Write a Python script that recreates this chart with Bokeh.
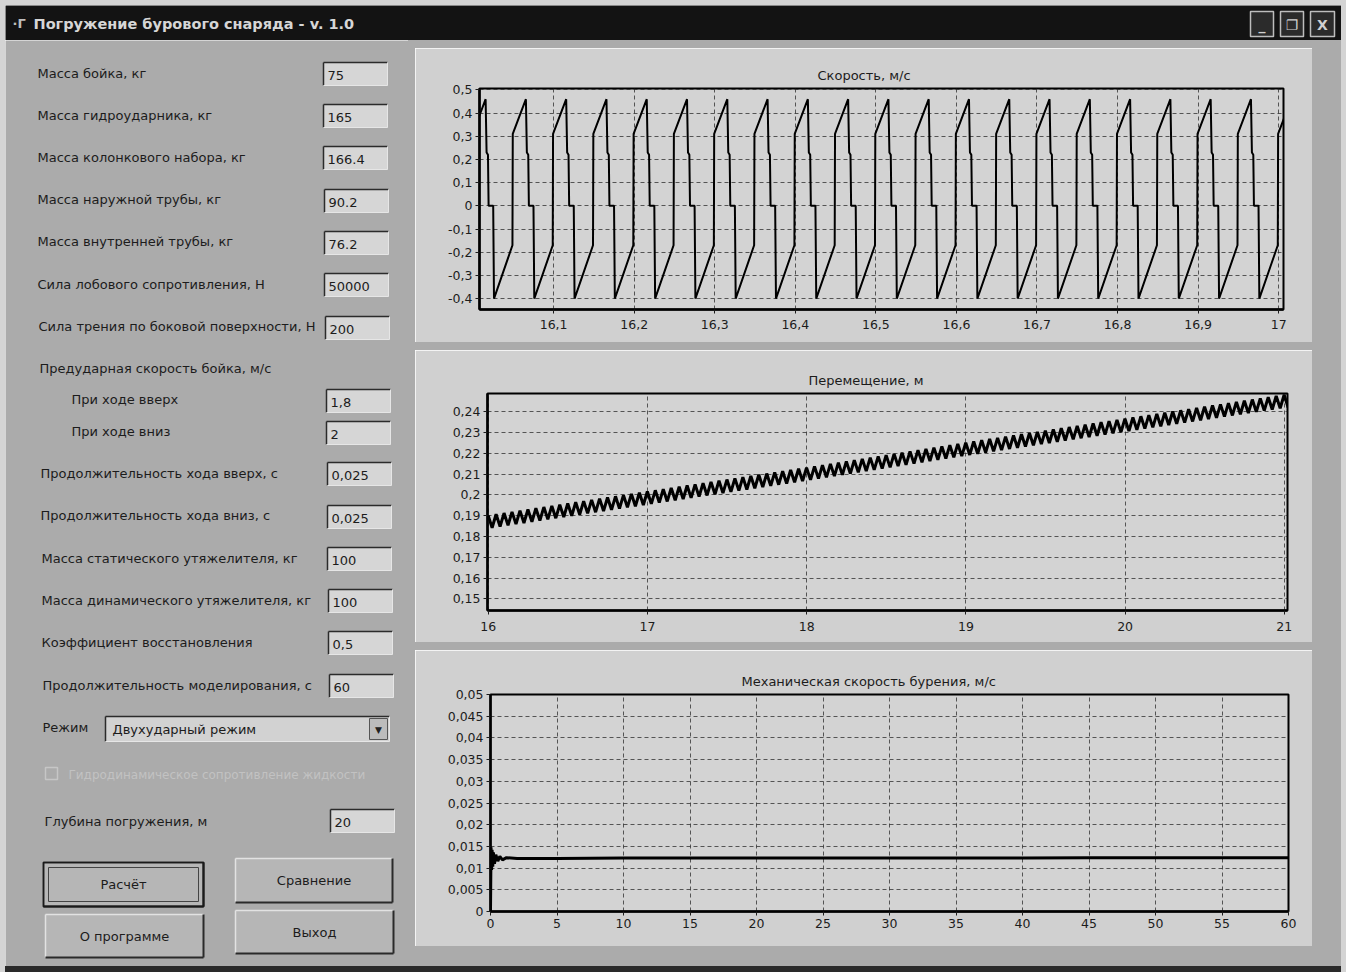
import numpy as np
from bokeh.plotting import figure
from bokeh.layouts import column, row
from bokeh.models import Range1d, FixedTicker, CustomJSTickFormatter, Spacer
from bokeh.core.properties import value
from bokeh.embed import file_html
from bokeh.resources import INLINE

# ------------------------------------------------------------------ data
# Chart 1: velocity, m/s (one hammer cycle, repeated at each trough)
vel_trough_times = [15.976, 16.026, 16.076, 16.126, 16.176, 16.226, 16.276, 16.326,
                    16.376, 16.426, 16.476, 16.526, 16.576, 16.626, 16.676, 16.726,
                    16.776, 16.826, 16.876, 16.926, 16.976]
vel_cycle_offsets = [0.0, 0.0229, 0.0233, 0.0396, 0.0408, 0.0425, 0.0433, 0.0490]
vel_cycle_values = [-0.40, -0.17, 0.31, 0.46, 0.23, 0.22, 0.0, 0.0]
vel_x_ticks = [16.1, 16.2, 16.3, 16.4, 16.5, 16.6, 16.7, 16.8, 16.9, 17.0]
vel_x_labels = ["16,1", "16,2", "16,3", "16,4", "16,5", "16,6", "16,7", "16,8", "16,9", "17"]
vel_y_ticks = [-0.4, -0.3, -0.2, -0.1, 0.0, 0.1, 0.2, 0.3, 0.4, 0.5]
vel_y_labels = ["-0,4", "-0,3", "-0,2", "-0,1", "0", "0,1", "0,2", "0,3", "0,4", "0,5"]

# Chart 2: displacement, m (mean level read at each second, swing of the saw-tooth)
disp_trend_t = [16, 17, 18, 19, 20, 21]
disp_trend_v = [0.1870, 0.1985, 0.2100, 0.2220, 0.2335, 0.2450]
disp_half_swing = 0.0031
disp_half_period = 0.025
disp_x_ticks = [16, 17, 18, 19, 20, 21]
disp_x_labels = ["16", "17", "18", "19", "20", "21"]
disp_y_ticks = [0.15, 0.16, 0.17, 0.18, 0.19, 0.20, 0.21, 0.22, 0.23, 0.24]
disp_y_labels = ["0,15", "0,16", "0,17", "0,18", "0,19", "0,2", "0,21", "0,22", "0,23", "0,24"]

# Chart 3: mechanical drilling speed, m/s
mech_t = [0.0, 0.04, 0.08, 0.12, 0.17, 0.22, 0.30, 0.40, 0.55, 0.70, 0.90, 1.2, 2.0,
          5, 10, 15, 20, 25, 30, 35, 40, 45, 50, 55, 60]
mech_v = [0.0, 0.0148, 0.0096, 0.0142, 0.0103, 0.0136, 0.0110, 0.0131, 0.0116, 0.0127,
          0.0119, 0.0124, 0.0122, 0.0122, 0.0123, 0.0123, 0.0123, 0.0123, 0.0123,
          0.0123, 0.0123, 0.0124, 0.0124, 0.0124, 0.0124]
mech_x_ticks = [0, 5, 10, 15, 20, 25, 30, 35, 40, 45, 50, 55, 60]
mech_x_labels = ["0", "5", "10", "15", "20", "25", "30", "35", "40", "45", "50", "55", "60"]
mech_y_ticks = [0.0, 0.005, 0.01, 0.015, 0.02, 0.025, 0.03, 0.035, 0.04, 0.045, 0.05]
mech_y_labels = ["0", "0,005", "0,01", "0,015", "0,02", "0,025", "0,03", "0,035", "0,04",
                 "0,045", "0,05"]

# Form content
window_title = "Погружение бурового снаряда - v. 1.0"
form_labels = ["Масса бойка, кг", "Масса гидроударника, кг", "Масса колонкового набора, кг",
               "Масса наружной трубы, кг", "Масса внутренней трубы, кг",
               "Сила лобового сопротивления, Н", "Сила трения по боковой поверхности, Н",
               "Предударная скорость бойка, м/с", "При ходе вверх", "При ходе вниз",
               "Продолжительность хода вверх, с", "Продолжительность хода вниз, с",
               "Масса статического утяжелителя, кг", "Масса динамического утяжелителя, кг",
               "Коэффициент восстановления", "Продолжительность моделирования, с",
               "Режим", "Глубина погружения, м"]
field_values = ["75", "165", "166.4", "90.2", "76.2", "50000", "200", "1,8", "2",
                "0,025", "0,025", "100", "100", "0,5", "60", "20"]
mode_text = "Двухударный режим"
checkbox_text = "Гидродинамическое сопротивление жидкости"
button_texts = ["Расчёт", "Сравнение", "О программе", "Выход"]

# ------------------------------------------------------------------ style / layout constants
FONT = "DejaVu Sans"
WIN_BG = "#ababab"
OUT_BG = "#d4d4d4"
PANEL_BG = "#d0d0d0"
PLOT_BG = "#d3d3d3"
INK = "#1c1c1c"

# form layout (window pixel coordinates)
label_x = [37, 37, 37, 37, 37, 37, 38, 39, 71, 71, 40, 40, 41, 41, 41, 42, 42, 44]
label_y = [73, 115, 157, 199, 241, 284, 326, 368, 399, 431, 473, 515, 558, 600, 642, 685, 727, 821]
field_left = [323, 323, 323, 324, 324, 324, 325, 326, 326, 327, 327, 327, 328, 328, 329, 330]
field_top = [62, 104, 146, 189, 231, 273, 316, 389, 421, 462, 505, 547, 589, 631, 674, 809]
FIELD_W, FIELD_H = 64, 23
btn_left = [43, 235, 45, 235]
btn_right = [203, 392, 203, 393]
btn_top = [862, 858, 914, 910]
btn_bottom = [906, 902, 957, 953]


def label_formatter(ticks, labels):
    return CustomJSTickFormatter(args=dict(t=ticks, l=labels), code="""
        let best = 0, bd = Infinity;
        for (let j = 0; j < t.length; j++) {
            const d = Math.abs(t[j] - tick);
            if (d < bd) { bd = d; best = j; }
        }
        return l[best];
    """)


def make_chart(title, width, height, xr, yr, borders, xt, xl, yt, yl, title_offset, x_standoff):
    left, right, top, bottom = borders
    p = figure(width=width, height=height, x_range=Range1d(*xr), y_range=Range1d(*yr),
               toolbar_location=None, output_backend="svg", title=title,
               min_border_left=left, min_border_right=right,
               min_border_top=top, min_border_bottom=bottom)
    p.title.align = "left"
    p.title.offset = title_offset
    p.title.text_font = FONT
    p.title.text_font_size = "13px"
    p.title.text_font_style = "normal"
    p.title.text_color = INK
    p.title.standoff = 12
    p.background_fill_color = PLOT_BG
    p.border_fill_color = PANEL_BG
    p.outline_line_color = "black"
    p.outline_line_width = 2
    xtick = FixedTicker(ticks=xt)
    ytick = FixedTicker(ticks=yt)
    p.xaxis[0].ticker = xtick
    p.yaxis[0].ticker = ytick
    p.xgrid[0].ticker = xtick
    p.ygrid[0].ticker = ytick
    p.xaxis[0].formatter = label_formatter(xt, xl)
    p.yaxis[0].formatter = label_formatter(yt, yl)
    p.xaxis[0].major_label_standoff = x_standoff
    p.yaxis[0].major_label_standoff = 3
    for ax in (p.xaxis[0], p.yaxis[0]):
        ax.axis_line_color = "black"
        ax.axis_line_width = 2.5
        ax.major_tick_line_color = INK
        ax.major_tick_out = 4
        ax.major_tick_in = 0
        ax.minor_tick_line_color = None
        ax.major_label_text_font = FONT
        ax.major_label_text_font_size = "12.5px"
        ax.major_label_text_color = INK
    for g in (p.xgrid[0], p.ygrid[0]):
        g.grid_line_color = "#2a2a2a"
        g.grid_line_dash = "4 3"
        g.grid_line_alpha = 0.75
        g.grid_line_width = 1
    return p


# ------------------------------------------------------------------ chart 1: velocity
vel_x, vel_y = [], []
for t0 in vel_trough_times:
    for off, v in zip(vel_cycle_offsets, vel_cycle_values):
        vel_x.append(t0 + off)
        vel_y.append(v)

c1 = make_chart("Скорость, м/с", 897, 294, (16.008, 17.006), (-0.447, 0.506),
                (64, 29, 40, 33), vel_x_ticks, vel_x_labels, vel_y_ticks, vel_y_labels,
                338, 6)
c1.line(vel_x, vel_y, line_color="black", line_width=2)

# ------------------------------------------------------------------ chart 2: displacement
n_pts = int(round((21.03 - 15.999) / disp_half_period)) + 1
disp_x = [15.999 + disp_half_period * j for j in range(n_pts)]
disp_mean = np.interp(disp_x, disp_trend_t, disp_trend_v)
disp_y = [m + (disp_half_swing if j % 2 == 0 else -disp_half_swing)
          for j, m in enumerate(disp_mean)]

c2 = make_chart("Перемещение, м", 897, 292, (15.995, 21.02), (0.1444, 0.2487),
                (72, 25, 43, 32), disp_x_ticks, disp_x_labels, disp_y_ticks, disp_y_labels,
                321, 7)
c2.line(disp_x, disp_y, line_color="black", line_width=3)

# ------------------------------------------------------------------ chart 3: drilling speed
c3 = make_chart("Механическая скорость бурения, м/с", 897, 296, (0, 60), (0, 0.05),
                (75, 24, 44, 35), mech_x_ticks, mech_x_labels, mech_y_ticks, mech_y_labels,
                251, 3)
c3.line(mech_t, mech_v, line_color="black", line_width=3)

# ------------------------------------------------------------------ title bar
tb = figure(width=1336, height=35, x_range=Range1d(5, 1341), y_range=Range1d(40, 5),
            toolbar_location=None, output_backend="svg", min_border=0,
            x_axis_location=None, y_axis_location=None)
tb.grid.visible = False
tb.outline_line_color = None
tb.background_fill_color = "#131313"
tb.border_fill_color = "#131313"
tb.text(x=[33], y=[23], text=[window_title], text_baseline="middle",
        text_font=value(FONT), text_font_size="14.5px", text_font_style="bold",
        text_color="#d6d6d6")
tb.text(x=[12], y=[23], text=["\u00b7\u0413"], text_baseline="middle",
        text_font=value(FONT), text_font_size="13px", text_font_style="bold",
        text_color="#bdbdbd")
wb_left = [1250, 1280, 1310]
wb_right = [1273, 1303, 1334]
tb.quad(left=wb_left, right=wb_right, top=[11] * 3, bottom=[36] * 3,
        fill_color="#2b2b2b", line_color="#bdbdbd", line_width=1.5)
tb.text(x=[(a + b) / 2 for a, b in zip(wb_left, wb_right)], y=[24] * 3,
        text=["_", "\u2750", "X"], text_align="center", text_baseline="middle",
        text_font=value("DejaVu Sans"), text_font_size="14px", text_font_style="bold",
        text_color="#d0d0d0")

# ------------------------------------------------------------------ left form panel
lp = figure(width=403, height=926, x_range=Range1d(5, 408), y_range=Range1d(966, 40),
            toolbar_location=None, output_backend="svg", min_border=0,
            x_axis_location=None, y_axis_location=None)
lp.grid.visible = False
lp.outline_line_color = None
lp.background_fill_color = WIN_BG
lp.border_fill_color = WIN_BG

lp.text(x=label_x, y=label_y, text=form_labels, text_baseline="middle",
        text_font=value(FONT), text_font_size="13px", text_color=INK)

# edit boxes (sunken)
fr = [l + FIELD_W for l in field_left]
fb = [t + FIELD_H for t in field_top]
lp.quad(left=field_left, right=fr, top=field_top, bottom=fb, fill_color="#d6d6d6",
        line_color=None)
lp.segment(x0=field_left, y0=field_top, x1=fr, y1=field_top, line_color="#2b2b2b", line_width=1.5)
lp.segment(x0=field_left, y0=field_top, x1=field_left, y1=fb, line_color="#2b2b2b", line_width=1.5)
lp.segment(x0=field_left, y0=fb, x1=fr, y1=fb, line_color="#e6e6e6", line_width=1)
lp.segment(x0=fr, y0=field_top, x1=fr, y1=fb, line_color="#e6e6e6", line_width=1)
lp.text(x=[l + 4 for l in field_left], y=[t + FIELD_H / 2 + 1 for t in field_top],
        text=field_values, text_baseline="middle", text_font=value(FONT),
        text_font_size="13px", text_color=INK)

# combo box
lp.quad(left=[105], right=[389], top=[716], bottom=[741], fill_color="#d2d2d2",
        line_color=None)
lp.segment(x0=[105, 105], y0=[716, 716], x1=[389, 105], y1=[716, 741],
           line_color="#2b2b2b", line_width=1.5)
lp.segment(x0=[105, 389], y0=[741, 716], x1=[389, 389], y1=[741, 741],
           line_color="#e6e6e6", line_width=1)
lp.text(x=[112], y=[729], text=[mode_text], text_baseline="middle", text_font=value(FONT),
        text_font_size="13px", text_color=INK)
lp.quad(left=[369], right=[387], top=[718], bottom=[739], fill_color="#bcbcbc",
        line_color="#555555", line_width=1)
lp.text(x=[378], y=[729], text=["\u25bc"], text_align="center", text_baseline="middle",
        text_font=value("DejaVu Sans"), text_font_size="9px", text_color="#222222")

# disabled check box
lp.quad(left=[45], right=[57], top=[767], bottom=[779], fill_color=None,
        line_color="#c6c6c6", line_width=1.5)
lp.text(x=[68], y=[774], text=[checkbox_text], text_baseline="middle",
        text_font=value(FONT), text_font_size="12px", text_color="#c2c2c2")

# push buttons
lp.quad(left=btn_left, right=btn_right, top=btn_top, bottom=btn_bottom,
        fill_color="#b6b6b6", line_color=None)
lp.segment(x0=btn_left, y0=btn_top, x1=btn_right, y1=btn_top, line_color="#e2e2e2", line_width=1.5)
lp.segment(x0=btn_left, y0=btn_top, x1=btn_left, y1=btn_bottom, line_color="#e2e2e2", line_width=1.5)
lp.segment(x0=btn_left, y0=btn_bottom, x1=btn_right, y1=btn_bottom, line_color="#2a2a2a", line_width=2)
lp.segment(x0=btn_right, y0=btn_top, x1=btn_right, y1=btn_bottom, line_color="#2a2a2a", line_width=2)
lp.quad(left=[btn_left[0]], right=[btn_right[0]], top=[btn_top[0]], bottom=[btn_bottom[0]],
        fill_color=None, line_color="#1a1a1a", line_width=2)
lp.quad(left=[btn_left[0] + 5], right=[btn_right[0] - 5], top=[btn_top[0] + 5],
        bottom=[btn_bottom[0] - 5], fill_color=None, line_color="#444444", line_width=1)
lp.text(x=[(a + b) / 2 for a, b in zip(btn_left, btn_right)],
        y=[(a + b) / 2 for a, b in zip(btn_top, btn_bottom)], text=button_texts,
        text_align="center", text_baseline="middle", text_font=value(FONT),
        text_font_size="13px", text_color=INK)

# ------------------------------------------------------------------ page layout
def gap(w, h, color=WIN_BG):
    return Spacer(width=w, height=h, styles={"background-color": color})


charts = column(gap(933, 8),
                row(gap(7, 294), c1, gap(29, 294)),
                gap(933, 8),
                row(gap(7, 292), c2, gap(29, 292)),
                gap(933, 8),
                row(gap(7, 296), c3, gap(29, 296)),
                gap(933, 20))
main = column(tb, row(lp, charts), gap(1336, 6, "#2a2a2a"))
root = column(gap(1346, 5, OUT_BG),
              row(gap(5, 967, OUT_BG), main, gap(5, 967, OUT_BG)))

with open("out.html", "w") as f:
    f.write(file_html(root, INLINE, title="Погружение бурового снаряда"))
